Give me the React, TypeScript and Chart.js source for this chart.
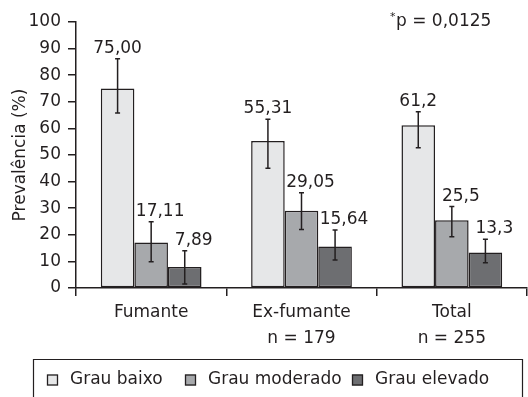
import React, { useEffect, useRef } from "react";
import { Chart, registerables } from "chart.js";

Chart.register(...registerables);

const categories: string[][] = [["Fumante"], ["Ex-fumante", "n = 179"], ["Total", "n = 255"]];
const seriesNames = ["Grau baixo", "Grau moderado", "Grau elevado"];

const grauBaixo = [75.0, 55.31, 61.2];
const grauModerado = [17.11, 29.05, 25.5];
const grauElevado = [7.89, 15.64, 13.3];

const grauBaixoLow = [65.8, 45.0, 52.7];
const grauBaixoHigh = [86.2, 63.4, 66.3];
const grauModeradoLow = [9.9, 22.0, 19.3];
const grauModeradoHigh = [24.9, 35.8, 30.6];
const grauElevadoLow = [1.5, 10.5, 9.5];
const grauElevadoHigh = [14.0, 21.8, 18.3];

const grauBaixoText = ["75,00", "55,31", "61,2"];
const grauModeradoText = ["17,11", "29,05", "25,5"];
const grauElevadoText = ["7,89", "15,64", "13,3"];

const yTicks = [0, 10, 20, 30, 40, 50, 60, 70, 80, 90, 100];
const yTitle = "Prevalência (%)";
const pNote = "p = 0,0125";

const INK = "#231f20";
const FONT = "'DejaVu Sans', sans-serif";
const FS = 17;
const colors = ["#e6e7e8", "#a7a9ac", "#6d6e71"];

const lows = [grauBaixoLow, grauModeradoLow, grauElevadoLow];
const highs = [grauBaixoHigh, grauModeradoHigh, grauElevadoHigh];
const texts = [grauBaixoText, grauModeradoText, grauElevadoText];
const labelShift = [0, 9, 9];

const extrasPlugin = {
  id: "extras",
  afterDatasetsDraw(chart: any) {
    const ctx = chart.ctx;
    const y = chart.scales.y;
    ctx.save();
    ctx.strokeStyle = INK;
    ctx.lineWidth = 1.5;
    chart.data.datasets.forEach((_: any, di: number) => {
      const meta = chart.getDatasetMeta(di);
      meta.data.forEach((bar: any, i: number) => {
        const x = bar.x;
        const yl = y.getPixelForValue(lows[di][i]);
        const yh = y.getPixelForValue(highs[di][i]);
        ctx.strokeStyle = INK;
        ctx.lineWidth = 1.5;
        ctx.beginPath();
        ctx.moveTo(x, yl);
        ctx.lineTo(x, yh);
        ctx.moveTo(x - 2.5, yl);
        ctx.lineTo(x + 2.5, yl);
        ctx.moveTo(x - 2.5, yh);
        ctx.lineTo(x + 2.5, yh);
        ctx.stroke();
        ctx.fillStyle = INK;
        ctx.font = `${FS}px ${FONT}`;
        ctx.textAlign = "center";
        ctx.textBaseline = "alphabetic";
        ctx.fillText(texts[di][i], x + labelShift[di], yh - 6);
      });
    });
    // y title
    ctx.save();
    ctx.translate(21, (chart.chartArea.top + chart.chartArea.bottom) / 2);
    ctx.rotate(-Math.PI / 2);
    ctx.font = `${FS}px ${FONT}`;
    ctx.textAlign = "center";
    ctx.textBaseline = "middle";
    ctx.fillStyle = INK;
    ctx.fillText(yTitle, 0, 0);
    ctx.restore();
    // p note
    ctx.fillStyle = INK;
    ctx.textAlign = "left";
    ctx.textBaseline = "middle";
    ctx.font = `11px ${FONT}`;
    ctx.fillText("*", 390, 17);
    ctx.font = `${FS}px ${FONT}`;
    ctx.fillText(pNote, 396, 22);
    // legend
    const legendTop = 359;
    ctx.strokeStyle = INK;
    ctx.lineWidth = 1.2;
    ctx.beginPath();
    ctx.moveTo(33.5, 402);
    ctx.lineTo(33.5, legendTop + 0.5);
    ctx.lineTo(522.5, legendTop + 0.5);
    ctx.lineTo(522.5, 402);
    ctx.stroke();
    const starts = [47, 185, 352];
    const cy = 380;
    seriesNames.forEach((name, i) => {
      const bx = starts[i];
      ctx.fillStyle = colors[i];
      ctx.fillRect(bx, cy - 5.5, 11, 11);
      ctx.strokeStyle = INK;
      ctx.lineWidth = 1.3;
      ctx.strokeRect(bx + 0.5, cy - 5, 10, 10);
      ctx.fillStyle = INK;
      ctx.font = `${FS}px ${FONT}`;
      ctx.textAlign = "left";
      ctx.textBaseline = "middle";
      ctx.fillText(name, bx + 23, cy);
    });
    ctx.restore();
  },
};

export default function App() {
  const ref = useRef<HTMLCanvasElement | null>(null);
  useEffect(() => {
    if (!ref.current) return;
    const chart = new Chart(ref.current, {
      type: "bar",
      data: {
        labels: categories,
        datasets: [grauBaixo, grauModerado, grauElevado].map((d, i) => ({
          label: seriesNames[i],
          data: d,
          backgroundColor: colors[i],
          borderColor: INK,
          borderWidth: 1.5,
          borderSkipped: false,
          barPercentage: 1,
          categoryPercentage: 0.67,
        })),
      },
      options: {
        animation: false,
        responsive: false,
        maintainAspectRatio: false,
        devicePixelRatio: 1,
        layout: { padding: { top: 22, right: 1, bottom: 49, left: 0 } },
        plugins: { legend: { display: false }, tooltip: { enabled: false } },
        scales: {
          x: {
            offset: true,
            grid: { display: true, drawOnChartArea: false, drawTicks: true, tickLength: 8, offset: true, color: INK, lineWidth: 1.5 },
            border: { display: true, color: INK, width: 1.5 },
            ticks: { color: INK, font: { family: FONT, size: FS, lineHeight: 1.53 }, padding: 4, maxRotation: 0, autoSkip: false },
            afterFit: (s: any) => { s.height = 60; },
          },
          y: {
            min: 0,
            max: 100,
            afterBuildTicks: (s: any) => { s.ticks = yTicks.map((v) => ({ value: v })); },
            grid: { display: true, drawOnChartArea: false, drawTicks: true, tickLength: 8, color: INK, lineWidth: 1.5 },
            border: { display: true, color: INK, width: 1.5 },
            ticks: { color: INK, font: { family: FONT, size: FS }, padding: 7 },
            afterFit: (s: any) => { s.width = 76; },
          },
        },
      },
      plugins: [extrasPlugin],
    });
    return () => chart.destroy();
  }, []);
  return (
    <div style={{ position: "fixed", left: 0, top: 0, width: 528, height: 397, background: "#fff" }}>
      <canvas ref={ref} width={528} height={397} style={{ width: 528, height: 397, display: "block" }} />
    </div>
  );
}
